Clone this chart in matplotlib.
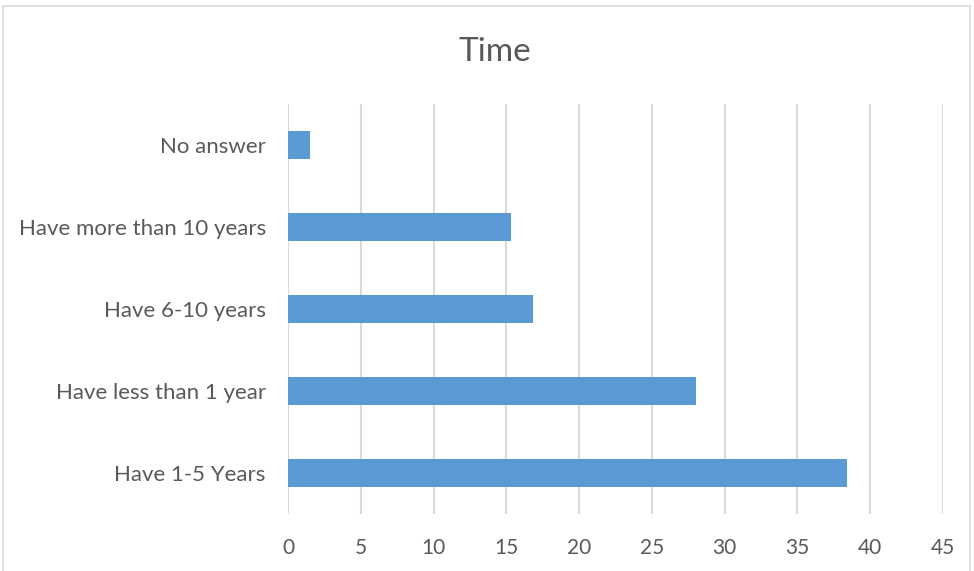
import matplotlib
matplotlib.use("Agg")
import matplotlib.pyplot as plt
from matplotlib.patches import Rectangle

categories = ["Have 1-5 Years", "Have less than 1 year", "Have 6-10 years",
              "Have more than 10 years", "No answer"]
values = [38.4, 28.0, 16.8, 15.3, 1.5]
xticks = [0, 5, 10, 15, 20, 25, 30, 35, 40, 45]

plt.rcParams['font.family'] = ['Lato', 'DejaVu Sans']
W, H = 974, 571
fig = plt.figure(figsize=(W / 100, H / 100), dpi=100)
ax = fig.add_axes([288 / W, 1 - 514 / H, (943 - 288) / W, (514 - 104) / H])

ypos = list(range(len(categories)))
ax.barh(ypos, values, height=0.35, color="#5b9bd5", zorder=3)
ax.set_ylim(-0.5, len(categories) - 0.5)
ax.set_xlim(0, 45)
ax.set_xticks(xticks)
ax.set_yticks(ypos)
ax.set_yticklabels(categories)
ax.grid(axis='x', color="#d9d9d9", linewidth=1.5, zorder=0)
for s in ax.spines.values():
    s.set_visible(False)
ax.tick_params(axis='both', length=0, colors="#595959")
ax.tick_params(axis='x', pad=17, labelsize=15)
ax.tick_params(axis='y', pad=16, labelsize=16)

fig.text(495 / W, 1 - 52 / H, "Time", ha='center', va='center', fontsize=24, color="#595959")
fig.patches.append(Rectangle((3 / W, -0.05), (970 - 3) / W, 1.05 - 6 / H, transform=fig.transFigure,
                             fill=False, edgecolor="#d9d9d9", linewidth=1.2))

fig.savefig("out.png", dpi=100)
